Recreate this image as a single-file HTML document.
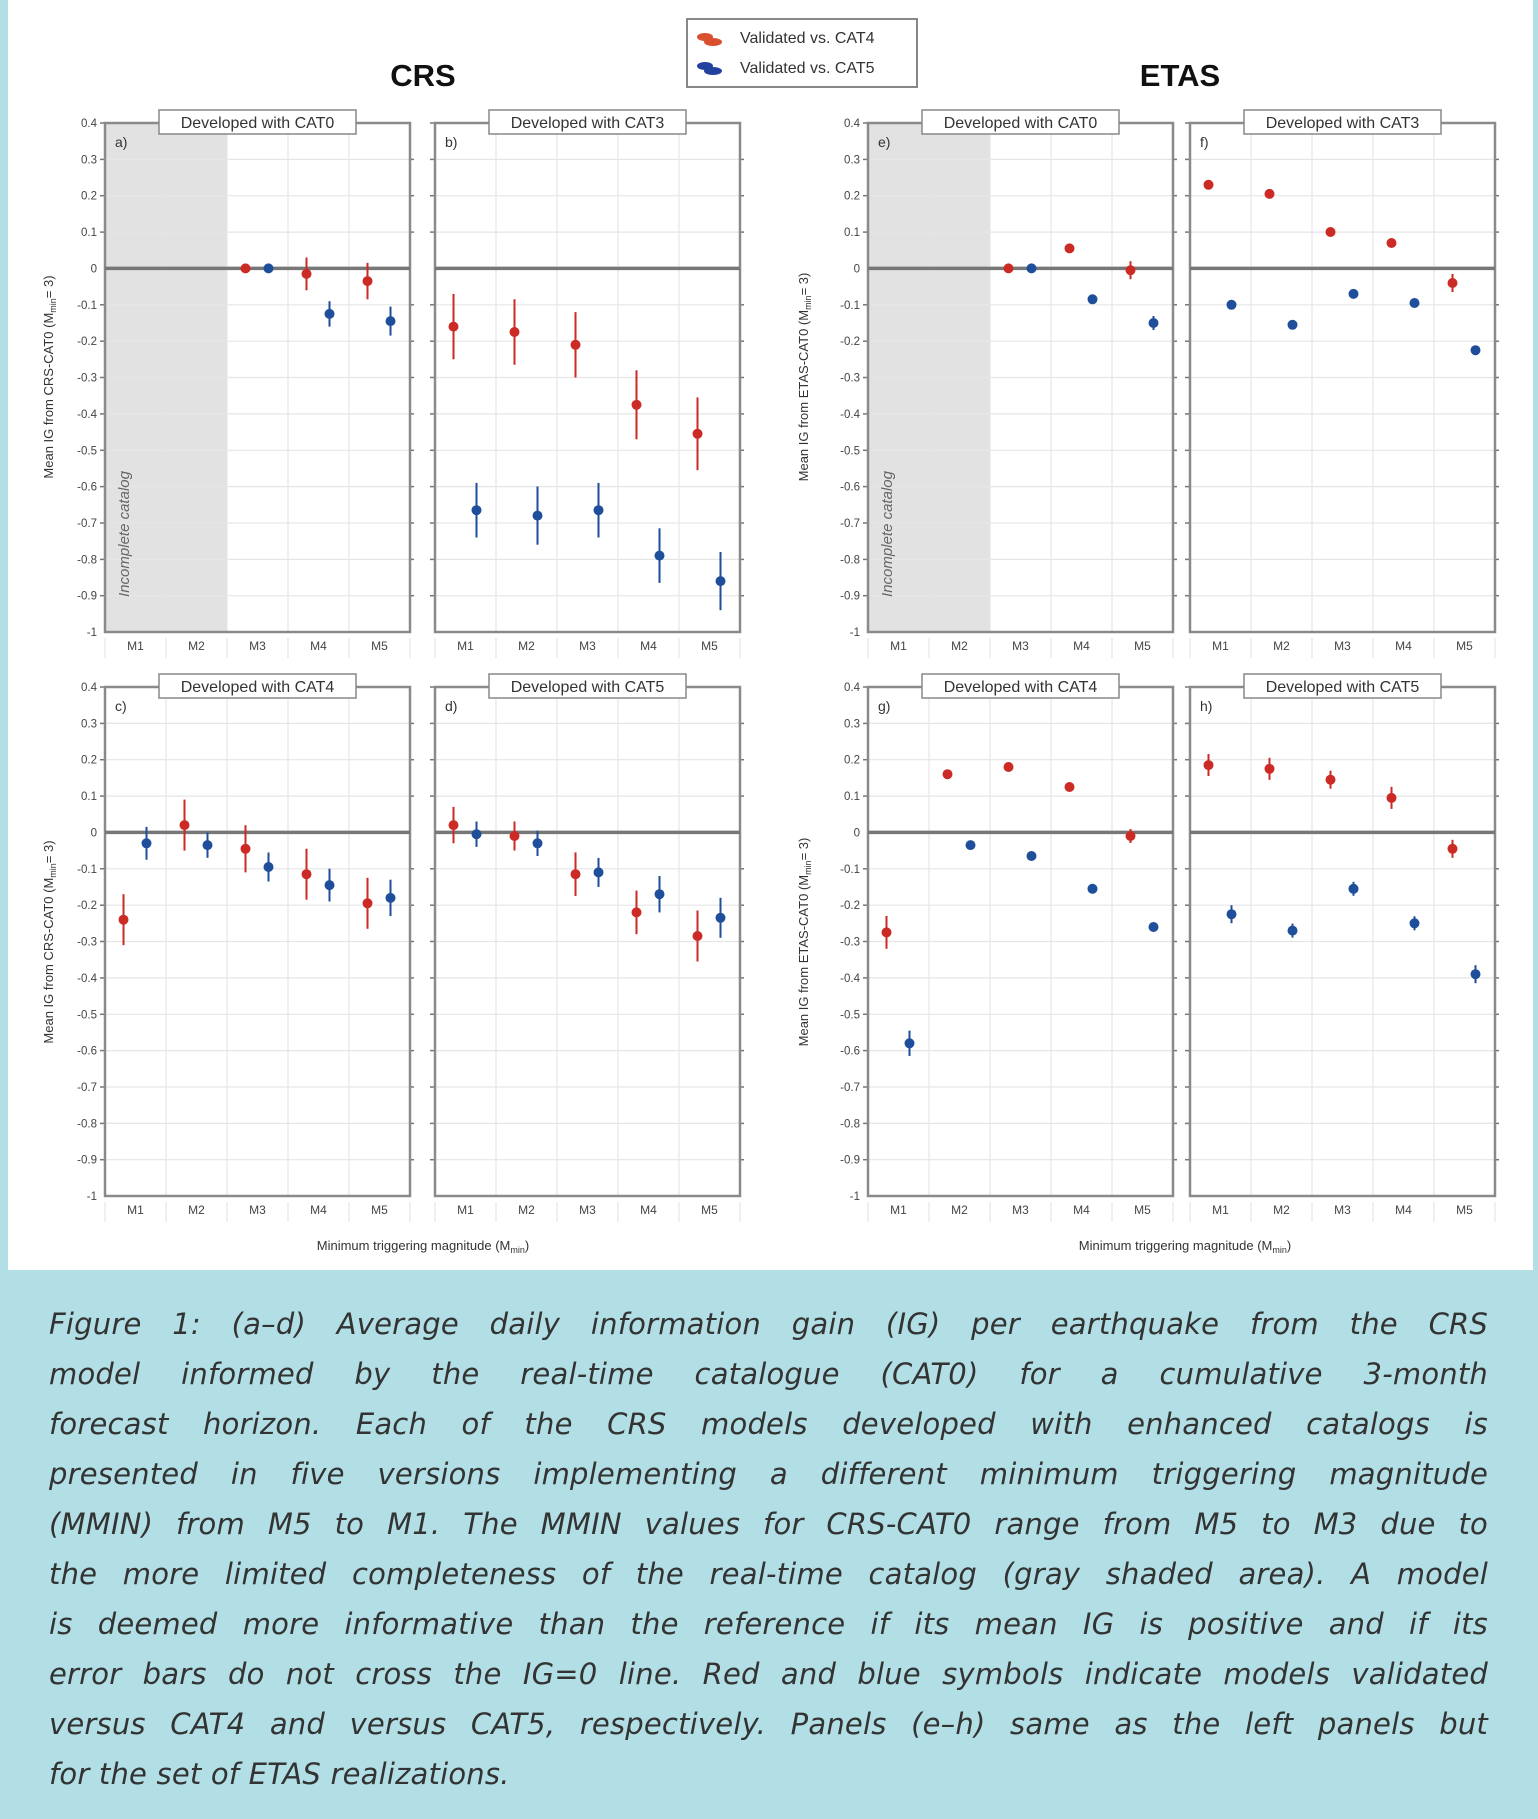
<!DOCTYPE html>
<html><head><meta charset="utf-8"><style>
html,body{margin:0;padding:0;}
body{width:1538px;height:1819px;background:#b2dfe5;position:relative;overflow:hidden;font-family:"Liberation Sans",sans-serif;}
#fig{position:absolute;left:8px;top:0;width:1525px;height:1270px;background:#fff;}
svg{position:absolute;left:0;top:0;}
#cap{position:absolute;left:49px;top:1299px;width:1439px;font-family:"DejaVu Sans",sans-serif;font-style:italic;font-size:29px;letter-spacing:0.2px;line-height:50px;color:#333;}
#cap div{text-align:justify;text-align-last:justify;white-space:nowrap;}
#cap div.l{text-align-last:left;}
</style></head><body>
<div id="fig"></div>
<svg width="1538" height="1819" viewBox="0 0 1538 1819" font-family="Liberation Sans, sans-serif">
<defs>
<g id="frame">
<g stroke="#e6e6e6" stroke-width="1.2">
<line x1="61" y1="0" x2="61" y2="509"/><line x1="122" y1="0" x2="122" y2="509"/><line x1="183" y1="0" x2="183" y2="509"/><line x1="244" y1="0" x2="244" y2="509"/>
<line x1="0" y1="36.4" x2="305" y2="36.4"/><line x1="0" y1="72.7" x2="305" y2="72.7"/><line x1="0" y1="109.1" x2="305" y2="109.1"/><line x1="0" y1="181.8" x2="305" y2="181.8"/><line x1="0" y1="218.2" x2="305" y2="218.2"/><line x1="0" y1="254.5" x2="305" y2="254.5"/><line x1="0" y1="290.9" x2="305" y2="290.9"/><line x1="0" y1="327.3" x2="305" y2="327.3"/><line x1="0" y1="363.6" x2="305" y2="363.6"/><line x1="0" y1="400" x2="305" y2="400"/><line x1="0" y1="436.4" x2="305" y2="436.4"/><line x1="0" y1="472.7" x2="305" y2="472.7"/>
<line x1="0" y1="515" x2="0" y2="535"/><line x1="61" y1="515" x2="61" y2="535"/><line x1="122" y1="515" x2="122" y2="535"/><line x1="183" y1="515" x2="183" y2="535"/><line x1="244" y1="515" x2="244" y2="535"/><line x1="305" y1="515" x2="305" y2="535"/>
</g>
<g stroke="#777" stroke-width="1.5">
<line x1="-5" y1="0" x2="0" y2="0"/><line x1="-5" y1="36.4" x2="0" y2="36.4"/><line x1="-5" y1="72.7" x2="0" y2="72.7"/><line x1="-5" y1="109.1" x2="0" y2="109.1"/><line x1="-5" y1="181.8" x2="0" y2="181.8"/><line x1="-5" y1="218.2" x2="0" y2="218.2"/><line x1="-5" y1="254.5" x2="0" y2="254.5"/><line x1="-5" y1="290.9" x2="0" y2="290.9"/><line x1="-5" y1="327.3" x2="0" y2="327.3"/><line x1="-5" y1="363.6" x2="0" y2="363.6"/><line x1="-5" y1="400" x2="0" y2="400"/><line x1="-5" y1="436.4" x2="0" y2="436.4"/><line x1="-5" y1="472.7" x2="0" y2="472.7"/>
<line x1="305" y1="36.4" x2="309" y2="36.4"/><line x1="305" y1="72.7" x2="309" y2="72.7"/><line x1="305" y1="109.1" x2="309" y2="109.1"/><line x1="305" y1="181.8" x2="309" y2="181.8"/><line x1="305" y1="218.2" x2="309" y2="218.2"/><line x1="305" y1="254.5" x2="309" y2="254.5"/><line x1="305" y1="290.9" x2="309" y2="290.9"/><line x1="305" y1="327.3" x2="309" y2="327.3"/><line x1="305" y1="363.6" x2="309" y2="363.6"/><line x1="305" y1="400" x2="309" y2="400"/><line x1="305" y1="436.4" x2="309" y2="436.4"/><line x1="305" y1="472.7" x2="309" y2="472.7"/>
</g>
<rect x="0" y="0" width="305" height="509" fill="none" stroke="#8a8a8a" stroke-width="2.5"/>
<line x1="0" y1="145.4" x2="305" y2="145.4" stroke="#777" stroke-width="3.5"/>
</g>
<g id="shade"><rect x="0" y="0" width="122" height="509" fill="#e2e2e2"/><line x1="61" y1="0" x2="61" y2="509" stroke="#d2d2d2" stroke-width="1.2"/></g>
<g id="xl" font-size="12" fill="#444" text-anchor="middle"><text x="30.5" y="527">M1</text><text x="91.5" y="527">M2</text><text x="152.5" y="527">M3</text><text x="213.5" y="527">M4</text><text x="274.5" y="527">M5</text></g>
<g id="yl" font-size="11.5" fill="#444" text-anchor="end"><text x="-8" y="4">0.4</text><text x="-8" y="40.4">0.3</text><text x="-8" y="76.7">0.2</text><text x="-8" y="113.1">0.1</text><text x="-8" y="149.4">0</text><text x="-8" y="185.8">-0.1</text><text x="-8" y="222.2">-0.2</text><text x="-8" y="258.5">-0.3</text><text x="-8" y="294.9">-0.4</text><text x="-8" y="331.3">-0.5</text><text x="-8" y="367.6">-0.6</text><text x="-8" y="404">-0.7</text><text x="-8" y="440.4">-0.8</text><text x="-8" y="476.7">-0.9</text><text x="-8" y="513">-1</text></g>
</defs>

<text x="423" y="86" font-size="31" font-weight="bold" text-anchor="middle" fill="#111">CRS</text>
<text x="1180" y="86" font-size="31" font-weight="bold" text-anchor="middle" fill="#111">ETAS</text>

<rect x="687" y="19" width="230" height="68" fill="#fff" stroke="#888" stroke-width="2"/>
<g fill="#d9502e"><ellipse cx="705" cy="37" rx="8" ry="4"/><ellipse cx="713" cy="42" rx="9" ry="4"/></g>
<g fill="#2342a0"><ellipse cx="705" cy="66" rx="8" ry="4"/><ellipse cx="713" cy="71" rx="9" ry="4"/></g>
<text x="740" y="43" font-size="16" fill="#333">Validated vs. CAT4</text>
<text x="740" y="73" font-size="16" fill="#333">Validated vs. CAT5</text>

<g transform="translate(105,123)">
<use href="#shade"/><use href="#frame"/><use href="#xl"/><use href="#yl"/>
<text transform="translate(24,411) rotate(-90)" font-size="15" font-style="italic" fill="#666" text-anchor="middle">Incomplete catalog</text>
<text x="10" y="24" font-size="14" fill="#333">a)</text>
<rect x="54" y="-13" width="197" height="24" fill="#fff" stroke="#888" stroke-width="1.5"/><text x="152.5" y="5" font-size="16" fill="#333" text-anchor="middle">Developed with CAT0</text>
<g stroke-width="2"><line x1="201.5" y1="134.5" x2="201.5" y2="167.3" stroke="#cc2a24"/><line x1="262.5" y1="139.9" x2="262.5" y2="176.3" stroke="#cc2a24"/><line x1="224.5" y1="178.2" x2="224.5" y2="203.6" stroke="#1f4e9a"/><line x1="285.5" y1="183.6" x2="285.5" y2="212.6" stroke="#1f4e9a"/></g>
<g fill="#cc2a24"><circle cx="140.5" cy="145.4" r="5"/><circle cx="201.5" cy="150.9" r="5"/><circle cx="262.5" cy="158.1" r="5"/></g>
<g fill="#1f4e9a"><circle cx="163.5" cy="145.4" r="5"/><circle cx="224.5" cy="190.9" r="5"/><circle cx="285.5" cy="198.1" r="5"/></g>
</g>

<g transform="translate(435,123)">
<use href="#frame"/><use href="#xl"/>
<text x="10" y="24" font-size="14" fill="#333">b)</text>
<rect x="54" y="-13" width="197" height="24" fill="#fff" stroke="#888" stroke-width="1.5"/><text x="152.5" y="5" font-size="16" fill="#333" text-anchor="middle">Developed with CAT3</text>
<g stroke="#cc2a24" stroke-width="2"><line x1="18.5" y1="170.9" x2="18.5" y2="236.3"/><line x1="79.5" y1="176.3" x2="79.5" y2="241.7"/><line x1="140.5" y1="189.1" x2="140.5" y2="254.5"/><line x1="201.5" y1="247.3" x2="201.5" y2="316.3"/><line x1="262.5" y1="274.4" x2="262.5" y2="347.2"/></g>
<g stroke="#1f4e9a" stroke-width="2"><line x1="41.5" y1="359.9" x2="41.5" y2="414.5"/><line x1="102.5" y1="363.5" x2="102.5" y2="421.7"/><line x1="163.5" y1="359.9" x2="163.5" y2="414.5"/><line x1="224.5" y1="405.3" x2="224.5" y2="459.9"/><line x1="285.5" y1="429" x2="285.5" y2="487.2"/></g>
<g fill="#cc2a24"><circle cx="18.5" cy="203.6" r="5"/><circle cx="79.5" cy="209" r="5"/><circle cx="140.5" cy="221.8" r="5"/><circle cx="201.5" cy="281.8" r="5"/><circle cx="262.5" cy="310.8" r="5"/></g>
<g fill="#1f4e9a"><circle cx="41.5" cy="387.2" r="5"/><circle cx="102.5" cy="392.6" r="5"/><circle cx="163.5" cy="387.2" r="5"/><circle cx="224.5" cy="432.6" r="5"/><circle cx="285.5" cy="458.1" r="5"/></g>
</g>

<g transform="translate(105,687)">
<use href="#frame"/><use href="#xl"/><use href="#yl"/>
<text x="10" y="24" font-size="14" fill="#333">c)</text>
<rect x="54" y="-13" width="197" height="24" fill="#fff" stroke="#888" stroke-width="1.5"/><text x="152.5" y="5" font-size="16" fill="#333" text-anchor="middle">Developed with CAT4</text>
<g stroke="#cc2a24" stroke-width="2"><line x1="18.5" y1="207.2" x2="18.5" y2="258.2"/><line x1="79.5" y1="112.6" x2="79.5" y2="163.6"/><line x1="140.5" y1="138.2" x2="140.5" y2="185.4"/><line x1="201.5" y1="161.7" x2="201.5" y2="212.7"/><line x1="262.5" y1="190.8" x2="262.5" y2="241.8"/></g>
<g stroke="#1f4e9a" stroke-width="2"><line x1="41.5" y1="139.9" x2="41.5" y2="172.7"/><line x1="102.5" y1="145.4" x2="102.5" y2="170.8"/><line x1="163.5" y1="165.5" x2="163.5" y2="194.5"/><line x1="224.5" y1="181.7" x2="224.5" y2="214.5"/><line x1="285.5" y1="192.7" x2="285.5" y2="229.1"/></g>
<g fill="#cc2a24"><circle cx="18.5" cy="232.7" r="5"/><circle cx="79.5" cy="138.1" r="5"/><circle cx="140.5" cy="161.8" r="5"/><circle cx="201.5" cy="187.2" r="5"/><circle cx="262.5" cy="216.3" r="5"/></g>
<g fill="#1f4e9a"><circle cx="41.5" cy="156.3" r="5"/><circle cx="102.5" cy="158.1" r="5"/><circle cx="163.5" cy="180" r="5"/><circle cx="224.5" cy="198.1" r="5"/><circle cx="285.5" cy="210.9" r="5"/></g>
</g>

<g transform="translate(435,687)">
<use href="#frame"/><use href="#xl"/>
<text x="10" y="24" font-size="14" fill="#333">d)</text>
<rect x="54" y="-13" width="197" height="24" fill="#fff" stroke="#888" stroke-width="1.5"/><text x="152.5" y="5" font-size="16" fill="#333" text-anchor="middle">Developed with CAT5</text>
<g stroke="#cc2a24" stroke-width="2"><line x1="18.5" y1="119.9" x2="18.5" y2="156.3"/><line x1="79.5" y1="134.5" x2="79.5" y2="163.5"/><line x1="140.5" y1="165.4" x2="140.5" y2="209"/><line x1="201.5" y1="203.6" x2="201.5" y2="247.2"/><line x1="262.5" y1="223.5" x2="262.5" y2="274.5"/></g>
<g stroke="#1f4e9a" stroke-width="2"><line x1="41.5" y1="134.5" x2="41.5" y2="159.9"/><line x1="102.5" y1="143.6" x2="102.5" y2="169"/><line x1="163.5" y1="170.9" x2="163.5" y2="199.9"/><line x1="224.5" y1="189" x2="224.5" y2="225.4"/><line x1="285.5" y1="210.8" x2="285.5" y2="250.8"/></g>
<g fill="#cc2a24"><circle cx="18.5" cy="138.1" r="5"/><circle cx="79.5" cy="149" r="5"/><circle cx="140.5" cy="187.2" r="5"/><circle cx="201.5" cy="225.4" r="5"/><circle cx="262.5" cy="249" r="5"/></g>
<g fill="#1f4e9a"><circle cx="41.5" cy="147.2" r="5"/><circle cx="102.5" cy="156.3" r="5"/><circle cx="163.5" cy="185.4" r="5"/><circle cx="224.5" cy="207.2" r="5"/><circle cx="285.5" cy="230.8" r="5"/></g>
</g>

<g transform="translate(868,123)">
<use href="#shade"/><use href="#frame"/><use href="#xl"/><use href="#yl"/>
<text transform="translate(24,411) rotate(-90)" font-size="15" font-style="italic" fill="#666" text-anchor="middle">Incomplete catalog</text>
<text x="10" y="24" font-size="14" fill="#333">e)</text>
<rect x="54" y="-13" width="197" height="24" fill="#fff" stroke="#888" stroke-width="1.5"/><text x="152.5" y="5" font-size="16" fill="#333" text-anchor="middle">Developed with CAT0</text>
<g stroke-width="2"><line x1="262.5" y1="138.2" x2="262.5" y2="156.2" stroke="#cc2a24"/><line x1="285.5" y1="193" x2="285.5" y2="207" stroke="#1f4e9a"/></g>
<g fill="#cc2a24"><circle cx="140.5" cy="145.4" r="5"/><circle cx="201.5" cy="125.4" r="5"/><circle cx="262.5" cy="147.2" r="5"/></g>
<g fill="#1f4e9a"><circle cx="163.5" cy="145.4" r="5"/><circle cx="224.5" cy="176.3" r="5"/><circle cx="285.5" cy="200" r="5"/></g>
</g>

<g transform="translate(1190,123)">
<use href="#frame"/><use href="#xl"/>
<text x="10" y="24" font-size="14" fill="#333">f)</text>
<rect x="54" y="-13" width="197" height="24" fill="#fff" stroke="#888" stroke-width="1.5"/><text x="152.5" y="5" font-size="16" fill="#333" text-anchor="middle">Developed with CAT3</text>
<line x1="262.5" y1="151" x2="262.5" y2="169" stroke="#cc2a24" stroke-width="2"/>
<g fill="#cc2a24"><circle cx="18.5" cy="61.8" r="5"/><circle cx="79.5" cy="70.9" r="5"/><circle cx="140.5" cy="109" r="5"/><circle cx="201.5" cy="120" r="5"/><circle cx="262.5" cy="160" r="5"/></g>
<g fill="#1f4e9a"><circle cx="41.5" cy="181.8" r="5"/><circle cx="102.5" cy="201.8" r="5"/><circle cx="163.5" cy="170.9" r="5"/><circle cx="224.5" cy="180" r="5"/><circle cx="285.5" cy="227.2" r="5"/></g>
</g>

<g transform="translate(868,687)">
<use href="#frame"/><use href="#xl"/><use href="#yl"/>
<text x="10" y="24" font-size="14" fill="#333">g)</text>
<rect x="54" y="-13" width="197" height="24" fill="#fff" stroke="#888" stroke-width="1.5"/><text x="152.5" y="5" font-size="16" fill="#333" text-anchor="middle">Developed with CAT4</text>
<g stroke-width="2"><line x1="18.5" y1="229" x2="18.5" y2="261.8" stroke="#cc2a24"/><line x1="262.5" y1="142" x2="262.5" y2="156" stroke="#cc2a24"/><line x1="41.5" y1="343.6" x2="41.5" y2="369" stroke="#1f4e9a"/></g>
<g fill="#cc2a24"><circle cx="18.5" cy="245.4" r="5"/><circle cx="79.5" cy="87.2" r="5"/><circle cx="140.5" cy="80" r="5"/><circle cx="201.5" cy="100" r="5"/><circle cx="262.5" cy="149" r="5"/></g>
<g fill="#1f4e9a"><circle cx="41.5" cy="356.3" r="5"/><circle cx="102.5" cy="158.1" r="5"/><circle cx="163.5" cy="169" r="5"/><circle cx="224.5" cy="201.8" r="5"/><circle cx="285.5" cy="240" r="5"/></g>
</g>

<g transform="translate(1190,687)">
<use href="#frame"/><use href="#xl"/>
<text x="10" y="24" font-size="14" fill="#333">h)</text>
<rect x="54" y="-13" width="197" height="24" fill="#fff" stroke="#888" stroke-width="1.5"/><text x="152.5" y="5" font-size="16" fill="#333" text-anchor="middle">Developed with CAT5</text>
<g stroke="#cc2a24" stroke-width="2"><line x1="18.5" y1="67" x2="18.5" y2="89"/><line x1="79.5" y1="70.8" x2="79.5" y2="92.8"/><line x1="140.5" y1="83.7" x2="140.5" y2="101.7"/><line x1="201.5" y1="99.9" x2="201.5" y2="121.9"/><line x1="262.5" y1="152.8" x2="262.5" y2="170.8"/></g>
<g stroke="#1f4e9a" stroke-width="2"><line x1="41.5" y1="218.2" x2="41.5" y2="236.2"/><line x1="102.5" y1="236.6" x2="102.5" y2="250.6"/><line x1="163.5" y1="194.8" x2="163.5" y2="208.8"/><line x1="224.5" y1="229.3" x2="224.5" y2="243.3"/><line x1="285.5" y1="278.2" x2="285.5" y2="296.2"/></g>
<g fill="#cc2a24"><circle cx="18.5" cy="78.1" r="5"/><circle cx="79.5" cy="81.8" r="5"/><circle cx="140.5" cy="92.7" r="5"/><circle cx="201.5" cy="110.9" r="5"/><circle cx="262.5" cy="161.8" r="5"/></g>
<g fill="#1f4e9a"><circle cx="41.5" cy="227.2" r="5"/><circle cx="102.5" cy="243.6" r="5"/><circle cx="163.5" cy="201.8" r="5"/><circle cx="224.5" cy="236.3" r="5"/><circle cx="285.5" cy="287.2" r="5"/></g>
</g>

<g font-size="13" fill="#333" text-anchor="middle">
<text transform="translate(53,377) rotate(-90)">Mean IG from CRS-CAT0 (M<tspan font-size="9" dy="3">min</tspan><tspan dy="-3">= 3)</tspan></text>
<text transform="translate(53,942) rotate(-90)">Mean IG from CRS-CAT0 (M<tspan font-size="9" dy="3">min</tspan><tspan dy="-3">= 3)</tspan></text>
<text transform="translate(808,377) rotate(-90)">Mean IG from ETAS-CAT0 (M<tspan font-size="9" dy="3">min</tspan><tspan dy="-3">= 3)</tspan></text>
<text transform="translate(808,942) rotate(-90)">Mean IG from ETAS-CAT0 (M<tspan font-size="9" dy="3">min</tspan><tspan dy="-3">= 3)</tspan></text>
<text x="423" y="1250">Minimum triggering magnitude (M<tspan font-size="9" dy="3">min</tspan><tspan dy="-3">)</tspan></text>
<text x="1185" y="1250">Minimum triggering magnitude (M<tspan font-size="9" dy="3">min</tspan><tspan dy="-3">)</tspan></text>
</g>
</svg>

<div id="cap">
<div>Figure 1: (a–d) Average daily information gain (IG) per earthquake from the CRS</div>
<div>model informed by the real-time catalogue (CAT0) for a cumulative 3-month</div>
<div>forecast horizon. Each of the CRS models developed with enhanced catalogs is</div>
<div>presented in five versions implementing a different minimum triggering magnitude</div>
<div>(MMIN) from M5 to M1. The MMIN values for CRS-CAT0 range from M5 to M3 due to</div>
<div>the more limited completeness of the real-time catalog (gray shaded area). A model</div>
<div>is deemed more informative than the reference if its mean IG is positive and if its</div>
<div>error bars do not cross the IG=0 line. Red and blue symbols indicate models validated</div>
<div>versus CAT4 and versus CAT5, respectively. Panels (e–h) same as the left panels but</div>
<div class="l">for the set of ETAS realizations.</div>
</div>
</body></html>
